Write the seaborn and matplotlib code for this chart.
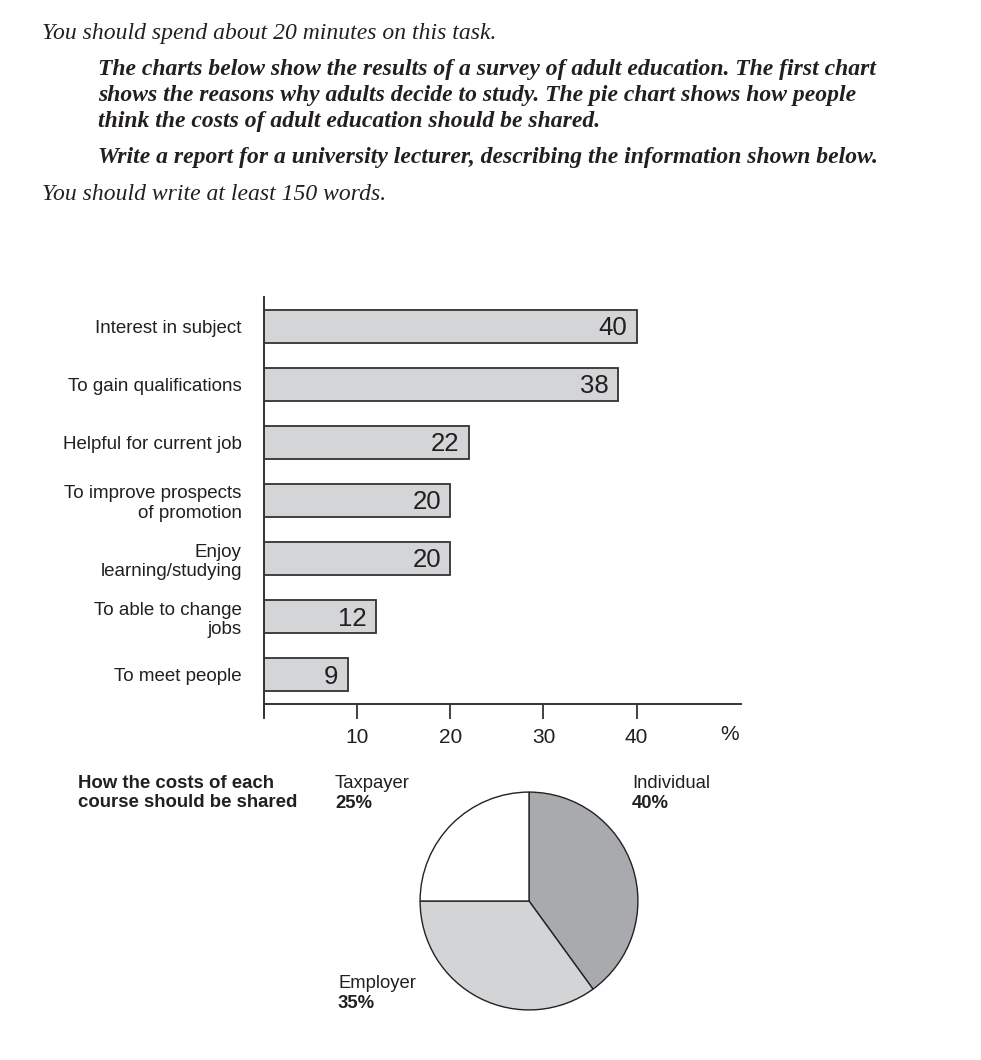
import matplotlib.pyplot as plt
import matplotlib.transforms as mtransforms
import seaborn as sns
import numpy as np
import pandas as pd

# reasons why adults decide to study (%)
reasons = ['Interest in subject', 'To gain qualifications', 'Helpful for current job',
           'To improve prospects\nof promotion', 'Enjoy\nlearning/studying',
           'To able to change\njobs', 'To meet people']
percent = [40, 38, 22, 20, 20, 12, 9]
xticks = [0, 10, 20, 30, 40]
xticklabels = ['', '10', '20', '30', '40']

# how the costs should be shared (%)
payers = ['Individual', 'Employer', 'Taxpayer']
shares = [40, 35, 25]
pie_colors = ['#a9aaad', '#d3d4d6', '#ffffff']

sns.set_style('white')
plt.rcParams['font.family'] = ['Liberation Sans', 'DejaVu Sans']
ink = '#231f20'

W, H = 981, 1060
fig = plt.figure(figsize=(W / 100, H / 100), dpi=100)


def px(x, y):
    return x / W, 1 - y / H


# instructions at the top
serif = ['Liberation Serif', 'DejaVu Serif']
fig.text(*px(42, 33), 'You should spend about 20 minutes on this task.', family=serif,
         style='italic', fontsize=17, color=ink, va='center')
task = ['The charts below show the results of a survey of adult education. The first chart',
        'shows the reasons why adults decide to study. The pie chart shows how people',
        'think the costs of adult education should be shared.']
for i, line in enumerate(task):
    fig.text(*px(98, 70 + 25.5 * i), line, family=serif, style='italic', weight='bold',
             fontsize=17, color=ink, va='center')
fig.text(*px(98, 158), 'Write a report for a university lecturer, describing the information shown below.',
         family=serif, style='italic', weight='bold', fontsize=17, color=ink, va='center')
fig.text(*px(42, 195), 'You should write at least 150 words.', family=serif,
         style='italic', fontsize=17, color=ink, va='center')

# bar chart
ax = fig.add_axes([264 / W, 1 - 704 / H, (741 - 264) / W, (704 - 297) / H])
df = pd.DataFrame({'reason': reasons, 'percent': percent})
sns.barplot(data=df, x='percent', y='reason', color='#d4d5d7', saturation=1,
            edgecolor='#333333', linewidth=1.3, width=0.57, ax=ax)
ax.set_xlim(0, 51.2)
ax.set_ylim(6.5, -0.5)
ax.set_xlabel('')
ax.set_ylabel('')
sns.despine(ax=ax)
for s in ['left', 'bottom']:
    ax.spines[s].set_color('#333333')
    ax.spines[s].set_linewidth(1.4)
ax.spines['left'].set_bounds(-0.5, 6.5 + 12 / 58)
ax.spines['left'].set_clip_on(False)
ax.set_xticks(xticks)
ax.set_xticklabels(xticklabels, fontsize=15, color=ink)
ax.tick_params(axis='x', direction='out', length=11, width=1.3, color='#333333', pad=6, bottom=True)
ax.tick_params(axis='y', length=0, pad=16, labelsize=13.5, labelcolor=ink)
for lab in ax.get_yticklabels():
    lab.set_linespacing(1.2)
    lab.set_multialignment('right')
pct_tr = mtransforms.blended_transform_factory(ax.transData, fig.transFigure)
ax.text(50, 1 - 735 / H, '%', transform=pct_tr, fontsize=15, color=ink, ha='center', va='center')
for i, v in enumerate(percent):
    ax.text(v - 1.0, i + 0.03, str(v), ha='right', va='center', fontsize=18.5, color=ink)

# pie chart
pax = fig.add_axes([419 / W, 1 - 1011 / H, 220 / W, 220 / H])
pax.pie(shares, colors=pie_colors, startangle=90, counterclock=False,
        wedgeprops={'edgecolor': '#222222', 'linewidth': 1.0})
pax.set_xlim(-1.01, 1.01)
pax.set_ylim(-1.01, 1.01)
pax.set_aspect('equal')

fig.text(*px(78, 793), 'How the costs of each\ncourse should be shared', weight='bold',
         fontsize=13.4, color=ink, va='center', linespacing=1.2)
label_pos = {'Individual': (632, 784), 'Employer': (338, 984), 'Taxpayer': (335, 784)}
for name, share in zip(payers, shares):
    x, y = label_pos[name]
    fig.text(*px(x, y), name, fontsize=13.3, color=ink, va='center')
    fig.text(*px(x, y + 19), f'{share}%', fontsize=13.3, weight='bold', color=ink, va='center')

fig.savefig('out.png', dpi=100, facecolor='white')
